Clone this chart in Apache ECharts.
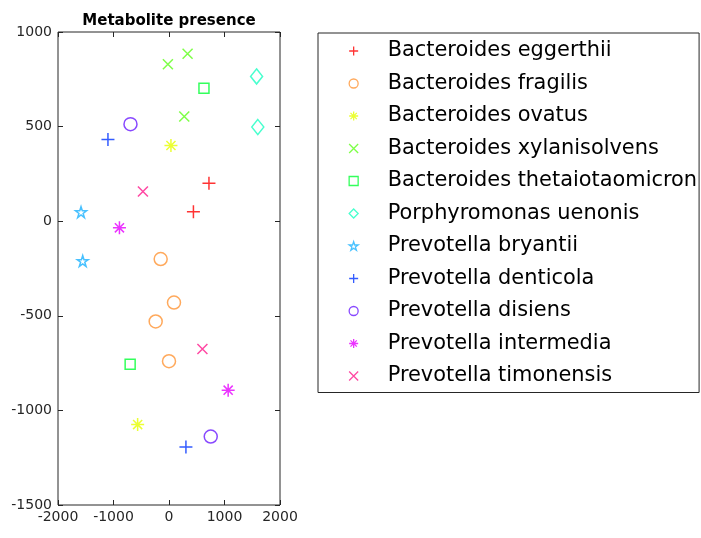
<!DOCTYPE html>
<html>
<head>
<meta charset="utf-8">
<script src="https://cdn.jsdelivr.net/npm/echarts@6/dist/echarts.min.js"></script>
<style>
  html, body { margin: 0; padding: 0; background: #fff; }
  #main { width: 701px; height: 538px; }
</style>
</head>
<body>
<div id="main"></div>
<script>
// species names, legend order
var species = ['Bacteroides eggerthii', 'Bacteroides fragilis', 'Bacteroides ovatus',
  'Bacteroides xylanisolvens', 'Bacteroides thetaiotaomicron', 'Porphyromonas uenonis',
  'Prevotella bryantii', 'Prevotella denticola', 'Prevotella disiens',
  'Prevotella intermedia', 'Prevotella timonensis'];

// points [x, y]
var eggerthii = [[720, 200], [440, 50]];
var fragilis = [[-150, -200], [90, -430], [-240, -530], [0, -740]];
var ovatus = [[35, 400], [-565, -1075]];
var xylanisolvens = [[-20, 830], [335, 885], [275, 553]];
var thetaiotaomicron = [[630, 703], [-700, -756]];
var uenonis = [[1578, 765], [1600, 498]];
var bryantii = [[-1585, 48], [-1555, -210]];
var denticola = [[-1100, 432], [305, -1194]];
var disiens = [[-694, 513], [752, -1138]];
var intermedia = [[-893, -35], [1066, -893]];
var timonensis = [[-470, 157], [602, -675]];

var xTicks = [-2000, -1000, 0, 1000, 2000];
var yTicks = [-1500, -1000, -500, 0, 500, 1000];

var colors = ['#ff0000', '#ff9433', '#e6ff00', '#5eff1a', '#00ff33', '#1affc2',
  '#1ab2ff', '#0033ff', '#6a1aff', '#e600ff', '#ff1a8c'];

var PLUS = 'path://M5,0L5,10M0,5L10,5';
var CROSS = 'path://M0,0L10,10M0,10L10,0';
var STAR = 'path://M5,0L5,10M0,5L10,5M1.5,1.5L8.5,8.5M1.5,8.5L8.5,1.5';
var PENTA = 'path://M10,0L12.245,6.91L19.51,6.91L13.63,11.18L15.88,18.09L10,13.82L4.12,18.09L6.37,11.18L0.49,6.91L7.755,6.91Z';

var allData = [eggerthii, fragilis, ovatus, xylanisolvens, thetaiotaomicron, uenonis,
  bryantii, denticola, disiens, intermedia, timonensis];
var symbols = [PLUS, 'circle', STAR, CROSS, 'rect', 'diamond', PENTA, PLUS, 'circle', STAR, CROSS];
var sizes = [13, 13, 13, 10, 10, [12, 15], 11, 13, 13, 13, 10];

var chart = echarts.init(document.getElementById('main'), null, {renderer: 'canvas'});

var series = species.map(function (name, i) {
  return {
    name: name,
    type: 'scatter',
    xAxisIndex: 0,
    yAxisIndex: 0,
    data: allData[i],
    symbol: symbols[i],
    symbolSize: sizes[i],
    itemStyle: {
      color: 'rgba(0,0,0,0)',
      borderColor: colors[i],
      borderWidth: 1.5
    },
    emphasis: {disabled: true}
  };
});

var legendData = species.map(function (name, i) {
  return {
    name: name,
    icon: symbols[i],
    itemStyle: {color: 'rgba(0,0,0,0)', borderColor: colors[i], borderWidth: 1.3}
  };
});

var FONT = 'DejaVu Sans, Liberation Sans, sans-serif';
var plain = function (v) { return String(v); };

function valAxis(pos, ticks, step, showLabel, margin) {
  return {
    type: 'value', position: pos,
    min: ticks[0], max: ticks[ticks.length - 1], interval: step,
    axisLine: {show: false, onZero: false},
    axisTick: {inside: true, length: 5, lineStyle: {color: '#262626'}},
    axisLabel: {show: showLabel, margin: margin, formatter: plain, color: '#262626', fontSize: 14, fontFamily: FONT},
    splitLine: {show: false}
  };
}

var option = {
  animation: false,
  backgroundColor: '#fff',
  title: {
    text: 'Metabolite presence',
    left: 164,
    textAlign: 'center',
    top: 9,
    textStyle: {fontSize: 15, fontWeight: 'bold', color: '#000', fontFamily: FONT}
  },
  grid: {left: 58, right: 421, top: 32, bottom: 33, show: true, borderColor: '#262626', borderWidth: 1},
  xAxis: [valAxis('bottom', xTicks, 1000, true, 5), valAxis('top', xTicks, 1000, false, 5)],
  yAxis: [valAxis('left', yTicks, 500, true, 6), valAxis('right', yTicks, 500, false, 6)],
  legend: {
    orient: 'vertical',
    left: 318,
    top: 33,
    padding: [7.5, 2, 6, 30.5],
    itemWidth: 9,
    itemHeight: 9,
    itemGap: 11.5,
    borderColor: '#262626',
    borderWidth: 1,
    backgroundColor: '#fff',
    selectedMode: false,
    data: legendData,
    textStyle: {
      fontSize: 20.9,
      lineHeight: 21,
      color: '#000',
      padding: [0, 0, 0, 24.5],
      fontFamily: FONT
    }
  },
  series: series
};

chart.setOption(option);
</script>
</body>
</html>
